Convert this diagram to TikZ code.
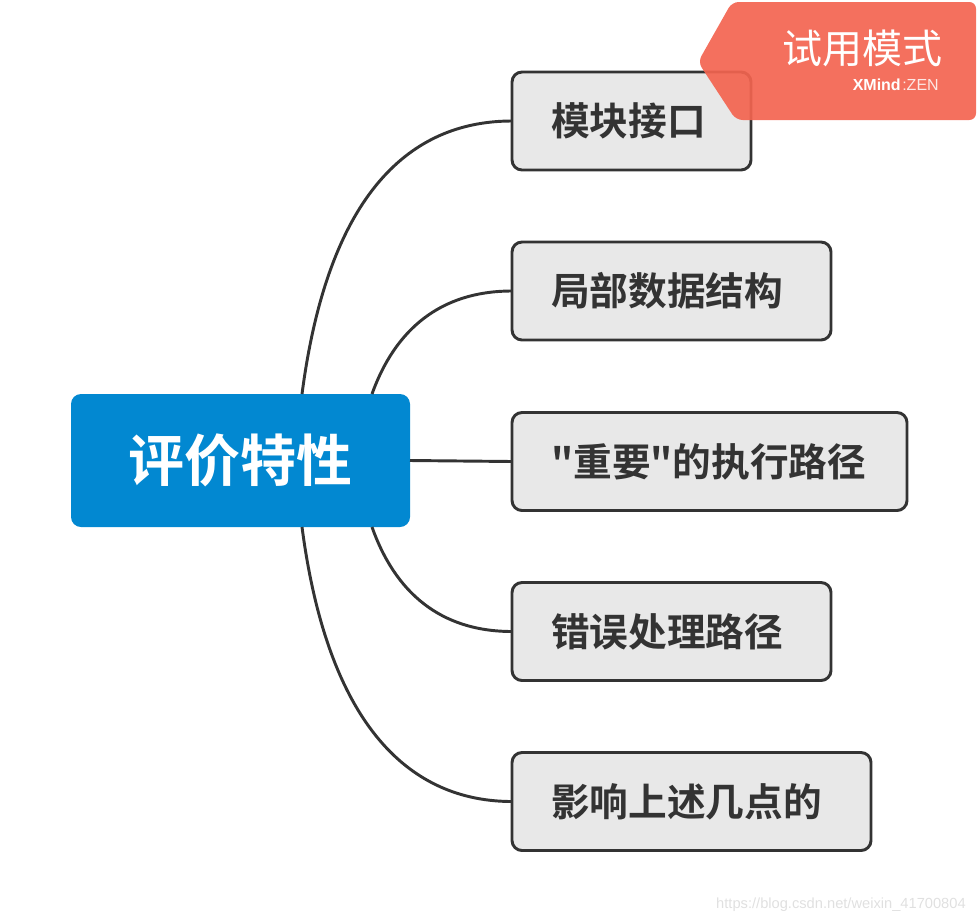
\documentclass[tikz,border=0pt]{standalone}
\usepackage{fontspec}
\setmainfont{Noto Sans CJK SC}
\newfontfamily\cjkb{Noto Sans CJK SC Bold}
\newfontfamily\lat{Liberation Sans}
\definecolor{central}{HTML}{0288D1}
\definecolor{boxfill}{HTML}{E8E8E8}
\definecolor{dark}{HTML}{333333}
\definecolor{wm}{HTML}{F36450}
\begin{document}
\begin{tikzpicture}[x=0.75pt,y=-0.75pt,
  child/.style={draw=dark,line width=2.2pt,fill=boxfill,rounded corners=7.5pt,inner sep=0pt},
  lbl/.style={font=\cjkb\fontsize{29}{33}\selectfont,text=dark,anchor=west,inner sep=0pt},
  conn/.style={draw=dark,line width=2.2pt}]
\useasboundingbox (0,0) rectangle (978,922);
\node[fill=central,rounded corners=7.5pt,minimum width=339*0.75pt,minimum height=133*0.75pt,inner sep=0pt] (c) at (240.5,460.5) {};
\node[font=\cjkb\fontsize{42}{46}\selectfont,text=white] (ct) at (c.center) {评价特性};
\foreach \n/\t/\xr/\yc in {a/模块接口/751/121, b/局部数据结构/831/291, m/"重要"的执行路径/907/461.5, d/错误处理路径/831/631.5, e/影响上述几点的/871/801.5}{
  \path[child] (512,\yc-49) rectangle (\xr,\yc+49);
  \coordinate (\n) at (512,\yc);
  \node[lbl] (\n t) at (551,\yc) {\t};
}
\coordinate (s1) at (302,394);
\coordinate (s2) at (372,394);
\coordinate (s3) at (410,460.5);
\coordinate (s4) at (372,527);
\coordinate (s5) at (302,527);
\draw[conn] (s1) .. controls (330,180) and (420,121) .. (a);
\draw[conn] (s2) .. controls (395,330) and (440,291) .. (b);
\draw[conn] (s3) -- (m);
\draw[conn] (s4) .. controls (395,592) and (440,631.5) .. (d);
\draw[conn] (s5) .. controls (330,740) and (420,801.5) .. (e);
\fill[wm,opacity=0.92,rounded corners=5pt] (698,62) -- (732,2) -- (976,2) -- (976,120) -- (736,120) -- cycle;
\node[font=\fontsize{30}{33}\selectfont,text=white] (w1) at (862,48) {试用模式};
\node[font=\lat\bfseries\fontsize{12}{14}\selectfont,text=white,anchor=east,inner sep=0pt] (w2) at (901,85) {XMind};
\node[font=\lat\fontsize{12}{14}\selectfont,text=white!85!wm,anchor=west,inner sep=0pt] (w3) at (902,85) {:ZEN};
\node[font=\lat\fontsize{11}{13}\selectfont,text=black!12,anchor=east,inner sep=0pt] (url) at (966,905) {https://blog.csdn.net/weixin\_41700804};
\end{tikzpicture}
\end{document}
